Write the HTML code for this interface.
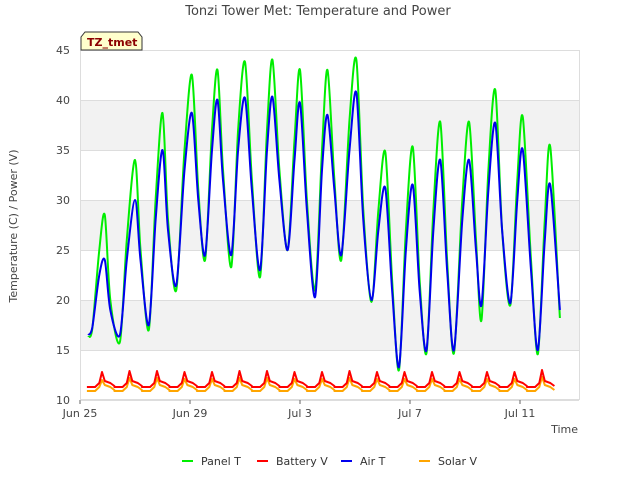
<!DOCTYPE html>
<html><head><meta charset="utf-8"><style>
body{margin:0;background:#fff;font-family:"Liberation Sans","DejaVu Sans",sans-serif}
svg text{font-family:"DejaVu Sans","Liberation Sans",sans-serif}
</style></head><body>
<svg id="c" width="640" height="480" xmlns="http://www.w3.org/2000/svg">
<text x="318" y="15" font-size="13" fill="#444" text-anchor="middle">Tonzi Tower Met: Temperature and Power</text>
<g id="bands"></g>
<rect x="80.5" y="50.5" width="499" height="349" fill="none" stroke="#ddd"/>
<g id="yt"></g><g id="xt"></g><g id="series"></g>
<text transform="translate(17,226) rotate(-90)" font-size="11" fill="#444" text-anchor="middle">Temperature (C) / Power (V)</text>
<text x="578" y="433" font-size="11" fill="#444" text-anchor="end">Time</text>
<g>
<path d="M81,50 L81,37 L85,32 L138,32 L142,37 L142,50 Z" fill="#ffffcc" stroke="#333"/>
<text x="87" y="46" font-size="11" font-weight="bold" fill="#8b0000">TZ_tmet</text></g>
<g id="legend"></g>
</svg>
<script>
const yTicks=[10,15,20,25,30,35,40,45];
const xTickLabels=["Jun 25","Jun 29","Jul 3","Jul 7","Jul 11"];
const xTickDays=[0,4,8,12,16];
const panelT=[[0.3,16.3],[0.45,17.2],[0.7,25],[0.9,28.5],[1.1,20],[1.45,15.8],[1.7,26],[2.0,34],[2.2,25],[2.5,17],[2.75,30],[3.0,38.7],[3.2,28],[3.5,21],[3.8,35],[4.07,42.5],[4.3,31],[4.55,24],[4.8,37],[5.0,43],[5.2,33],[5.5,23.3],[5.75,37],[6.0,43.8],[6.25,32],[6.55,22.3],[6.8,37],[7.0,44],[7.25,33],[7.55,25],[7.8,36],[8.0,43],[8.25,30],[8.55,21],[8.8,35],[9.0,43],[9.25,32],[9.5,24],[9.8,38],[10.05,44],[10.3,29],[10.6,19.8],[10.85,29],[11.1,34.8],[11.35,22],[11.6,13],[11.85,27],[12.1,35.3],[12.35,22],[12.6,14.7],[12.85,29],[13.1,37.8],[13.35,24],[13.6,14.7],[13.9,30],[14.15,37.8],[14.4,26],[14.6,18],[14.85,33],[15.1,41],[15.35,27],[15.65,19.5],[15.9,32],[16.1,38.3],[16.4,24],[16.65,14.6],[16.9,28],[17.1,35.3],[17.45,18.2]];
const airT=[[0.3,16.5],[0.45,17.3],[0.7,22.5],[0.9,24],[1.1,19],[1.45,16.5],[1.7,24],[2.0,30],[2.2,24],[2.5,17.5],[2.75,28],[3.0,35],[3.2,27],[3.5,21.5],[3.8,33],[4.07,38.7],[4.3,30],[4.55,24.5],[4.8,35],[5.0,40],[5.2,32],[5.5,24.5],[5.75,35],[6.0,40.2],[6.25,31],[6.55,23],[6.8,35],[7.0,40.3],[7.25,32],[7.55,25],[7.8,34],[8.0,39.7],[8.25,29],[8.55,20.3],[8.8,33],[9.0,38.5],[9.25,31],[9.5,24.5],[9.8,35],[10.05,40.7],[10.3,28],[10.6,20],[10.85,27],[11.1,31.2],[11.35,21],[11.6,13.3],[11.85,25],[12.1,31.5],[12.35,21],[12.6,15],[12.85,27],[13.1,34],[13.35,23],[13.6,15],[13.9,28],[14.15,34],[14.4,25],[14.6,19.5],[14.85,31],[15.1,37.7],[15.35,27],[15.65,19.7],[15.9,30],[16.1,35],[16.4,23],[16.65,15],[16.9,26],[17.1,31.5],[17.45,19]];
const batteryPeak=[12.8,12.9,12.9,12.8,12.8,12.9,12.9,12.8,12.8,12.9,12.8,12.8,12.8,12.8,12.8,12.8,13.0];
const solarPeak=[12.0,12.2,12.2,12.1,12.1,12.2,12.2,12.1,12.1,12.2,12.1,12.1,12.1,12.1,12.1,12.1,12.3];
const X=d=>80+d*27.5, Y=v=>400-(v-10)*10;
const NS="http://www.w3.org/2000/svg";
function mk(t,a,p){const e=document.createElementNS(NS,t);for(const k in a)e.setAttribute(k,a[k]);p.appendChild(e);return e;}
const bands=document.getElementById('bands');
[[15,20],[25,30],[35,40]].forEach(b=>{const r=mk('rect',{x:81,y:Y(b[1]),width:498,height:Y(b[0])-Y(b[1]),fill:'#f2f2f2'},bands);

});
const yt=document.getElementById('yt');
yTicks.forEach(v=>{mk('line',{x1:81,x2:579,y1:Y(v)+.5,y2:Y(v)+.5,stroke:'#ddd'},yt);
const t=mk('text',{x:70,y:Y(v)+4,'font-size':11,fill:'#444','text-anchor':'end'},yt);t.textContent=v;

});
const xt=document.getElementById('xt');
xTickDays.forEach((d,i)=>{mk('line',{x1:X(d),x2:X(d),y1:400,y2:404,stroke:'#666'},xt);
const t=mk('text',{x:X(d),y:417,'font-size':11,fill:'#444','text-anchor':'middle'},xt);t.textContent=xTickLabels[i];

});
const S=document.getElementById('series');
function smoothPath(pts){const P=pts.map(q=>[X(q[0]),Y(q[1])]);let d='M'+P[0][0].toFixed(1)+','+P[0][1].toFixed(1);
for(let i=0;i<P.length-1;i++){const p0=P[Math.max(0,i-1)],p1=P[i],p2=P[i+1],p3=P[Math.min(P.length-1,i+2)];const k=0.15;
const c1=[p1[0]+(p2[0]-p0[0])*k,p1[1]+(p2[1]-p0[1])*k],c2=[p2[0]-(p3[0]-p1[0])*k,p2[1]-(p3[1]-p1[1])*k];
d+=' C'+c1[0].toFixed(1)+','+c1[1].toFixed(1)+' '+c2[0].toFixed(1)+','+c2[1].toFixed(1)+' '+p2[0].toFixed(1)+','+p2[1].toFixed(1);}return d;}
function line(pts,col,name,smooth){const a={fill:'none',stroke:col,'stroke-width':2,'stroke-linejoin':'round'};let p;
if(smooth){a.d=smoothPath(pts);p=mk('path',a,S);}else{a.points=pts.map(q=>X(q[0]).toFixed(1)+','+Y(q[1]).toFixed(1)).join(' ');p=mk('polyline',a,S);}

}
function volt(peaks,base,plat){const pts=[];peaks.forEach((pk,i)=>{const d=i+0.3;pts.push([d-0.05,base],[d+0.25,base],[d+0.4,plat],[d+0.5,pk],[d+0.6,plat+0.2],[d+0.8,plat],[d+0.95,base+0.1]);});
return pts.filter(q=>q[0]<=17.5);}
line(volt(solarPeak,10.9,11.3),'#ffa500','solar-v-line',false);
line(volt(batteryPeak,11.3,11.7),'#ff0000','battery-v-line',false);
line(panelT,'#00ee00','panel-t-line',true);
line(airT,'#0000ee','air-t-line',true);
const L=document.getElementById('legend');
[['Panel T','#00ee00',182],['Battery V','#ff0000',257],['Air T','#0000ee',341],['Solar V','#ffa500',419]].forEach(e=>{
const g=mk('g',{},L);


mk('line',{x1:e[2],x2:e[2]+11,y1:461,y2:461,stroke:e[1],'stroke-width':2},g);
const t=mk('text',{x:e[2]+19,y:465,'font-size':11,fill:'#333'},g);t.textContent=e[0];});
</script>
</body></html>
